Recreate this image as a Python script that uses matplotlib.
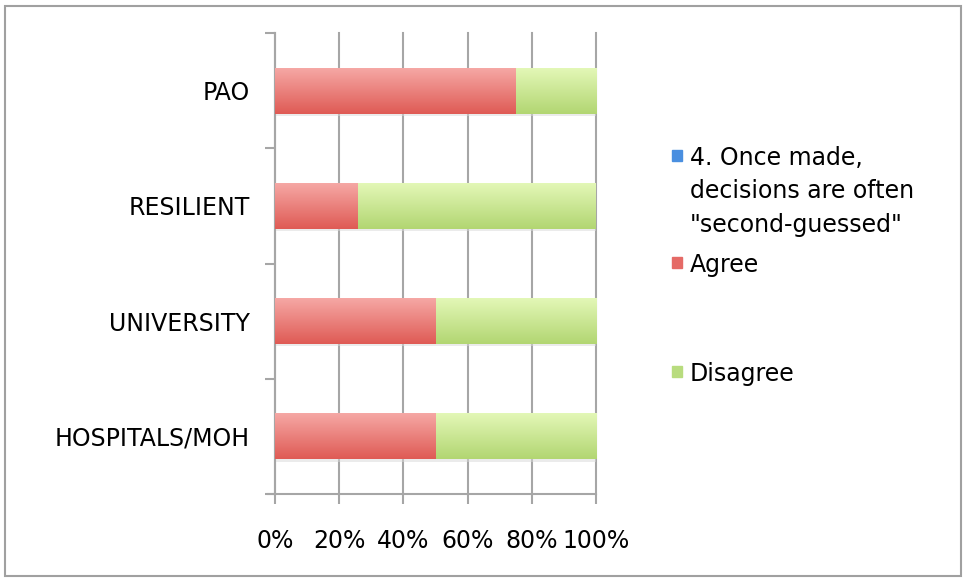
import numpy as np
import matplotlib.pyplot as plt
from matplotlib.patches import Rectangle
from matplotlib.colors import LinearSegmentedColormap
from matplotlib.ticker import FixedLocator, PercentFormatter

# Datos: porcentaje de respuestas por grupo
categorias = ['PAO', 'RESILIENT', 'UNIVERSITY', 'HOSPITALS/MOH']
agree = [75, 26, 50, 50]
disagree = [25, 74, 50, 50]
titulo_serie = '4. Once made,\ndecisions are often\n"second-guessed"'
ticks_x = [0, 20, 40, 60, 80, 100]

plt.rcParams['font.family'] = ['DejaVu Sans']
FS = 17

fig = plt.figure(figsize=(9.65, 5.81), dpi=100)
ax = fig.add_axes([275 / 965, 1 - 494 / 581, 321 / 965, 461 / 581])

# Degradados verticales de las barras (claro arriba, oscuro abajo)
cmap_rojo = LinearSegmentedColormap.from_list('rojo', ['#f6a9a6', '#df5b55'])
cmap_verde = LinearSegmentedColormap.from_list('verde', ['#e4f8b8', '#b2d672'])
grad = np.linspace(0, 1, 64).reshape(-1, 1)

y = np.arange(len(categorias))
alto = 0.4

def barra_degradado(ax, x0, ancho, yc, cmap):
    # sombra suave debajo de la barra
    ax.add_patch(Rectangle((x0, yc - alto / 2 + 0.02), ancho, alto, color='#d8d8d8',
                           alpha=0.5, lw=0, zorder=2))
    img = ax.imshow(grad, cmap=cmap, aspect='auto', interpolation='bicubic',
                    extent=(x0, x0 + ancho, yc + alto / 2, yc - alto / 2), zorder=3)
    rect = Rectangle((x0, yc - alto / 2), ancho, alto, fc='none', lw=0, zorder=3)
    ax.add_patch(rect)
    img.set_clip_path(rect)

for i in range(len(categorias)):
    barra_degradado(ax, 0, agree[i], y[i], cmap_rojo)
    barra_degradado(ax, agree[i], disagree[i], y[i], cmap_verde)

ax.set_xlim(0, 100)
ax.set_ylim(len(categorias) - 0.5, -0.5)

# Rejilla vertical y ejes
ax.xaxis.set_major_locator(FixedLocator(ticks_x))
ax.xaxis.set_major_formatter(PercentFormatter(decimals=0))
ax.grid(axis='x', color='#a6a6a6', lw=1.5, zorder=0)
for linea in ax.get_xgridlines():
    linea.set_clip_on(False)
ax.set_axisbelow(True)
ax.set_yticks(y)
ax.set_yticklabels(categorias)
ax.set_yticks(np.arange(len(categorias) + 1) - 0.5, minor=True)
ax.tick_params(axis='y', which='major', length=0, pad=18, labelsize=FS)
ax.tick_params(axis='y', which='minor', length=7, width=1.5, color='#a6a6a6')
ax.tick_params(axis='x', length=7, width=1.5, color='#a6a6a6', pad=18, labelsize=FS)
for s in ['top', 'right']:
    ax.spines[s].set_visible(False)
for s in ['left', 'bottom']:
    ax.spines[s].set_color('#a6a6a6')
    ax.spines[s].set_linewidth(1.5)
ax.spines['bottom'].set_bounds(-2.2, 100)

# Leyenda (cuadros y textos)
leyenda = [('#4a8fe0', titulo_serie, 164), ('#e56a66', 'Agree', 271), ('#b8dc7e', 'Disagree', 380)]
for color, texto, base in leyenda:
    fig.patches.append(Rectangle((672 / 965, 1 - (base - 3) / 581), 10 / 965, 11 / 581,
                                 color=color, transform=fig.transFigure, figure=fig))
    fig.text(690 / 965, 1 - (base - 18) / 581, texto, fontsize=FS, va='top', ha='left',
             linespacing=1.5)

# Marco exterior
fig.patches.append(Rectangle((5 / 965, 5 / 581), 956 / 965, 570 / 581, fill=False,
                             ec='#a0a0a0', lw=1.5, transform=fig.transFigure, figure=fig))

fig.savefig('out.png', dpi=100)
